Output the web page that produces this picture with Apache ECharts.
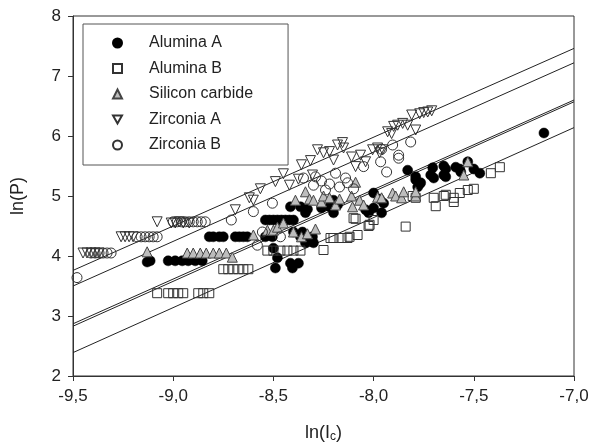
<!DOCTYPE html>
<html>
<head>
<meta charset="utf-8">
<script src="https://cdn.jsdelivr.net/npm/echarts@6/dist/echarts.min.js"></script>
<style>
  html, body { margin: 0; padding: 0; background: #fff; }
  #chart { width: 600px; height: 447px; }
</style>
</head>
<body>
<div id="chart"></div>
<script>
// ln(Ic), ln(P) pairs
const aluminaA = [
  [-9.13, 3.9], [-9.115, 3.92], [-9.025, 3.92], [-8.99, 3.92], [-8.955, 3.92], [-8.925, 3.92], [-8.89, 3.92], [-8.855, 3.92],
  [-8.82, 4.32], [-8.8, 4.32], [-8.77, 4.32], [-8.75, 4.32], [-8.69, 4.32], [-8.67, 4.32], [-8.65, 4.32], [-8.63, 4.32],
  [-8.54, 4.6], [-8.52, 4.6], [-8.5, 4.6], [-8.48, 4.6], [-8.46, 4.6], [-8.44, 4.6], [-8.42, 4.6], [-8.4, 4.6],
  [-8.54, 4.32], [-8.505, 4.32], [-8.365, 4.32], [-8.305, 4.32], [-8.4, 4.4], [-8.355, 4.4],
  [-8.5, 4.13], [-8.48, 3.97], [-8.49, 3.8], [-8.415, 3.88], [-8.375, 3.88], [-8.405, 3.8],
  [-8.34, 4.22], [-8.3, 4.22],
  [-8.415, 4.82], [-8.365, 4.82], [-8.33, 4.78], [-8.26, 4.8], [-8.22, 4.82], [-8.18, 4.85], [-8.34, 4.72], [-8.2, 4.72], [-8.2, 4.93],
  [-8.0, 5.05], [-7.97, 4.95], [-8.0, 4.8], [-7.96, 4.72], [-7.95, 4.88], [-8.025, 4.72], [-8.04, 4.77],
  [-7.83, 5.43], [-7.79, 5.32], [-7.77, 5.2], [-7.78, 5.15], [-7.79, 5.27], [-7.765, 5.22],
  [-7.715, 5.35], [-7.7, 5.3], [-7.64, 5.45], [-7.64, 5.32], [-7.705, 5.47], [-7.65, 5.5], [-7.65, 5.35],
  [-7.59, 5.48], [-7.57, 5.45], [-7.5, 5.45], [-7.47, 5.38], [-7.53, 5.57], [-7.565, 5.4],
  [-7.15, 6.05]
];
const aluminaB = [
  [-9.08, 3.38], [-9.025, 3.38], [-9.0, 3.38], [-8.975, 3.38], [-8.95, 3.38], [-8.875, 3.38], [-8.85, 3.38], [-8.82, 3.38],
  [-8.75, 3.78], [-8.725, 3.78], [-8.7, 3.78], [-8.675, 3.78], [-8.65, 3.78], [-8.625, 3.78],
  [-8.53, 4.09], [-8.5, 4.09], [-8.465, 4.09], [-8.43, 4.09], [-8.4, 4.09], [-8.365, 4.09], [-8.25, 4.1],
  [-8.215, 4.3], [-8.2, 4.3], [-8.16, 4.3], [-8.13, 4.3], [-8.12, 4.32], [-8.08, 4.35],
  [-8.1, 4.63], [-8.09, 4.62], [-8.025, 4.5], [-8.0, 4.6], [-8.02, 4.52],
  [-7.84, 4.49],
  [-7.805, 5.0], [-7.79, 4.97], [-7.7, 4.97], [-7.69, 4.83], [-7.65, 5.0], [-7.6, 4.9], [-7.64, 5.02], [-7.6, 4.97],
  [-7.57, 5.05], [-7.53, 5.1], [-7.5, 5.12],
  [-7.415, 5.38], [-7.37, 5.48]
];
const siliconCarbide = [
  [-9.13, 4.07],
  [-8.93, 4.05], [-8.9, 4.05], [-8.865, 4.05], [-8.835, 4.05], [-8.8, 4.05], [-8.77, 4.05], [-8.735, 4.05], [-8.705, 3.98],
  [-8.6, 4.35], [-8.53, 4.43], [-8.5, 4.43], [-8.48, 4.48], [-8.45, 4.55], [-8.4, 4.4], [-8.36, 4.32], [-8.33, 4.37], [-8.29, 4.45],
  [-8.39, 4.93], [-8.34, 5.07], [-8.32, 4.95], [-8.3, 4.93], [-8.26, 4.9], [-8.25, 5.0], [-8.22, 4.97], [-8.19, 4.85],
  [-8.17, 4.95], [-8.11, 5.0], [-8.105, 4.82], [-8.07, 4.93], [-8.05, 4.85], [-8.09, 5.23],
  [-7.98, 4.98], [-7.96, 4.97], [-7.905, 5.05], [-7.89, 5.0], [-7.86, 4.97], [-7.85, 5.07], [-7.79, 5.0], [-7.79, 5.07],
  [-7.55, 5.35], [-7.53, 5.57]
];
const zirconiaA = [
  [-9.45, 4.05], [-9.43, 4.05], [-9.41, 4.05], [-9.39, 4.05], [-9.37, 4.05],
  [-9.26, 4.32], [-9.24, 4.32], [-9.22, 4.32], [-9.2, 4.32],
  [-9.08, 4.57], [-9.01, 4.55], [-8.99, 4.55], [-8.97, 4.57], [-8.95, 4.55], [-8.92, 4.55],
  [-8.69, 4.77], [-8.62, 4.97], [-8.6, 4.93], [-8.565, 5.12], [-8.49, 5.24], [-8.45, 5.37], [-8.42, 5.18], [-8.375, 5.28],
  [-8.36, 5.52], [-8.305, 5.35], [-8.315, 5.59], [-8.28, 5.77], [-8.25, 5.72], [-8.22, 5.74], [-8.2, 5.6], [-8.18, 5.85],
  [-8.155, 5.89], [-8.15, 5.8], [-8.11, 5.65], [-8.09, 5.49], [-8.065, 5.68], [-8.04, 5.57], [-8.005, 5.77], [-7.98, 5.8],
  [-7.97, 5.72], [-7.955, 5.77], [-7.93, 6.07], [-7.91, 6.04], [-7.9, 6.16], [-7.88, 6.18], [-7.855, 6.21], [-7.83, 6.18],
  [-7.79, 6.1], [-7.81, 6.35], [-7.77, 6.37], [-7.75, 6.39], [-7.73, 6.4], [-7.71, 6.42]
];
const zirconiaB = [
  [-9.48, 3.64],
  [-9.41, 4.05], [-9.39, 4.05], [-9.37, 4.05], [-9.35, 4.05], [-9.33, 4.05], [-9.31, 4.05],
  [-9.18, 4.32], [-9.16, 4.32], [-9.14, 4.32], [-9.12, 4.32], [-9.1, 4.32], [-9.08, 4.32],
  [-9.0, 4.57], [-8.98, 4.57], [-8.96, 4.57], [-8.94, 4.57], [-8.92, 4.57], [-8.9, 4.57], [-8.88, 4.57], [-8.86, 4.57], [-8.84, 4.57],
  [-8.71, 4.6], [-8.6, 4.74], [-8.505, 4.88], [-8.58, 4.18], [-8.555, 4.4], [-8.465, 4.32],
  [-8.35, 5.3], [-8.3, 5.18], [-8.29, 5.32], [-8.26, 5.25], [-8.24, 5.1], [-8.22, 5.2], [-8.19, 5.38], [-8.17, 5.15],
  [-8.14, 5.3], [-8.13, 5.22], [-8.1, 5.12], [-8.05, 5.49], [-7.965, 5.57], [-7.935, 5.4], [-7.96, 5.78],
  [-7.905, 5.85], [-7.875, 5.68], [-7.875, 5.63], [-7.815, 5.9]
];

// regression lines, value at x = -9.5 and x = -7.0
const fitX = [-9.5, -7.0];
const fitZirconiaA = [3.76, 7.46];
const fitZirconiaB = [3.5, 7.22];
const fitAluminaA = [2.87, 6.6];
const fitSiliconCarbide = [2.83, 6.57];
const fitAluminaB = [2.39, 6.14];

const names = ["Alumina A", "Alumina B", "Silicon carbide", "Zirconia A", "Zirconia B"];
const font = "Liberation Sans, Arial, sans-serif";

const chart = echarts.init(document.getElementById("chart"));

function fitLine(vals) {
  return {
    type: "line",
    data: fitX.map((x, i) => [x, vals[i]]),
    showSymbol: false,
    silent: true,
    z: 1,
    lineStyle: { color: "#222", width: 1 },
  };
}

const open = "rgba(255,255,255,0)";

const option = {
  animation: false,
  backgroundColor: "#fff",
  grid: {
    left: 73, right: 26, top: 16, bottom: 71,
    outerBoundsMode: "none",
    show: true, borderColor: "#333", borderWidth: 1,
  },
  legend: {
    data: names,
    orient: "vertical",
    left: 83, top: 24,
    padding: [11, 35, 12, 29],
    itemGap: 9.5,
    itemWidth: 9, itemHeight: 9,
    borderColor: "#555", borderWidth: 1,
    textStyle: { fontFamily: font, fontSize: 16, color: "#222", lineHeight: 15, padding: [0, 0, 0, 22] },
  },
  xAxis: {
    type: "value",
    min: -9.5, max: -7, interval: 0.5,
    name: "ln(I{sub|c})",
    nameLocation: "middle",
    nameGap: 47,
    nameTextStyle: {
      fontFamily: font, fontSize: 18, color: "#222",
      rich: { sub: { fontFamily: font, fontSize: 12, verticalAlign: "bottom", padding: [8, 0, 0, 0], color: "#222" } },
    },
    axisLine: { lineStyle: { color: "#333" } },
    axisTick: { inside: false, length: 5, lineStyle: { color: "#333" } },
    axisLabel: {
      margin: 12, fontFamily: font, fontSize: 17, color: "#222",
      formatter: (v) => v.toFixed(1).replace(".", ","),
    },
    splitLine: { show: false },
  },
  yAxis: {
    type: "value",
    min: 2, max: 8, interval: 1,
    name: "ln(P)",
    nameLocation: "middle",
    nameGap: 46,
    nameTextStyle: { fontFamily: font, fontSize: 18, color: "#222" },
    axisLine: { show: true, lineStyle: { color: "#333" } },
    axisTick: { show: true, inside: false, length: 5, lineStyle: { color: "#333" } },
    axisLabel: { margin: 12, fontFamily: font, fontSize: 17, color: "#222" },
    splitLine: { show: false },
  },
  series: [
    fitLine(fitZirconiaA),
    fitLine(fitZirconiaB),
    fitLine(fitAluminaA),
    fitLine(fitSiliconCarbide),
    fitLine(fitAluminaB),
    {
      name: "Alumina A", type: "scatter", data: aluminaA, z: 3,
      symbol: "circle", symbolSize: 10,
      itemStyle: { color: "#000", borderColor: "#000", borderWidth: 0.5, opacity: 1 },
    },
    {
      name: "Alumina B", type: "scatter", data: aluminaB, z: 3,
      symbol: "rect", symbolSize: 9,
      itemStyle: { color: open, borderColor: "#333", borderWidth: 1, opacity: 1 },
    },
    {
      name: "Silicon carbide", type: "scatter", data: siliconCarbide, z: 3,
      symbol: "triangle", symbolSize: 10,
      itemStyle: { color: "#bdbdbd", borderColor: "#444", borderWidth: 1, opacity: 1 },
    },
    {
      name: "Zirconia A", type: "scatter", data: zirconiaA, z: 3,
      symbol: "path://M0,0L10,0L5,9Z", symbolSize: 10,
      itemStyle: { color: open, borderColor: "#333", borderWidth: 1, opacity: 1 },
    },
    {
      name: "Zirconia B", type: "scatter", data: zirconiaB, z: 3,
      symbol: "circle", symbolSize: 10,
      itemStyle: { color: open, borderColor: "#333", borderWidth: 1, opacity: 1 },
    },
  ],
};

chart.setOption(option);
</script>
</body>
</html>
